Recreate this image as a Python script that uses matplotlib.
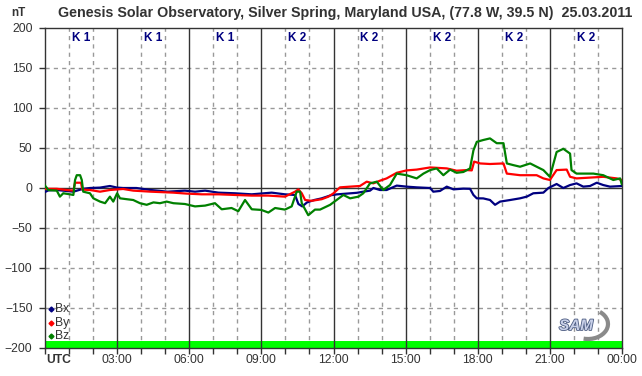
import matplotlib
matplotlib.use("Agg")
import matplotlib.pyplot as plt
from matplotlib.patches import Arc
import matplotlib.patheffects as pe

# time in hours UTC, values in nT
bx_t = [0, 0.14, 0.49, 1.18, 1.59, 1.87, 2.29, 2.7, 3.0, 3.25, 3.8, 4.4, 5.1, 5.82,
        6.24, 6.66, 7.21, 7.9, 8.6, 9.43, 9.98, 10.4, 10.54, 10.7, 10.9, 11.2, 11.5,
        11.9, 12.13, 12.55, 12.97, 13.24, 13.52, 13.66, 13.93, 14.21, 14.63, 15.04,
        15.46, 16.02, 16.15, 16.43, 16.71, 16.99, 17.4, 17.68, 17.82, 17.96, 18.23,
        18.51, 18.72, 18.93, 19.35, 19.76, 20.04, 20.31, 20.73, 20.94, 21.28, 21.56,
        21.84, 22.11, 22.39, 22.67, 22.95, 23.22, 23.5, 23.99]
bx = [-5, -3, -2.5, -4.6, -1, 0, 0.5, 2.5, 0.5, 0, 0, -2.5, -4.6, -3.3,
      -4.6, -3.3, -5.8, -6.6, -7.9, -5.8, -7.9, -8.7, -20, -23, -18, -15, -13,
      -9, -8, -7, -6, -4.6, -3.3, 0, -2.5, -2.5, 3, 1.7,
      0.8, 0, -4.6, -3.7, 1.7, -1.7, -0.8, -1, -8.7, -12.9, -13,
      -15, -21, -17, -15, -12.9, -10.8, -6.6, -5.8, 0, 5, 0,
      3.7, 5.8, 1.7, 2.5, 6.6, 3.7, 1.7, 2.5]

by_t = [0, 0.49, 0.9, 1.18, 1.25, 1.5, 1.55, 1.87, 2.29, 2.7, 3.25, 3.67, 4.4, 5.34,
        5.89, 6.52, 7.21, 7.9, 8.6, 9.29, 9.98, 10.4, 10.54, 10.68, 10.82, 11.09,
        11.51, 11.79, 12.0, 12.27, 12.69, 13.1, 13.38, 13.66, 13.93, 14.21, 14.63,
        15.04, 15.46, 16.02, 16.71, 17.12, 17.54, 17.75, 17.85, 18.1, 18.51, 19.07,
        19.21, 19.76, 20.45, 20.73, 21.0, 21.28, 21.7, 21.84, 22.11, 22.67, 23.22,
        23.78, 23.99]
by = [-1, -1, -2.5, -3.3, 6.6, 6.6, -2, -2.5, -4.6, -2.5, -1.2, -3.3, -4.6, -5.8,
      -7, -7.9, -7.9, -8.7, -9.5, -9.5, -10.8, -4.6, -1.7, -6.6, -15, -16,
      -14, -10.8, -6.6, 0.8, 1.7, 2.5, 7.9, 5.8, 9.1, 12, 19,
      22, 23, 25.7, 24.5, 21.6, 22.4, 22, 33, 30.7, 30, 30.7,
      18, 16, 16, 12, 10, 22.4, 23, 14, 12, 13, 14,
      12, 10]

bz_t = [0, 0.14, 0.49, 0.62, 0.76, 1.04, 1.18, 1.25, 1.32, 1.46, 1.53, 1.59, 1.87,
        2.01, 2.29, 2.5, 2.7, 2.84, 3.0, 3.12, 3.4, 3.67, 3.95, 4.23, 4.51, 4.78,
        5.06, 5.34, 5.82, 6.24, 6.66, 7.07, 7.35, 7.76, 8.04, 8.32, 8.6, 9.0, 9.29,
        9.57, 9.98, 10.26, 10.47, 10.61, 10.68, 10.95, 11.23, 11.44, 11.86, 12.13,
        12.41, 12.69, 13.04, 13.24, 13.52, 13.8, 14.07, 14.35, 14.63, 15.04, 15.46,
        15.74, 16.02, 16.29, 16.57, 16.85, 17.12, 17.4, 17.68, 17.82, 17.96, 18.23,
        18.51, 18.79, 19.07, 19.21, 19.48, 19.76, 20.18, 20.45, 20.73, 21.0, 21.28,
        21.56, 21.84, 21.9, 22.11, 22.39, 22.81, 23.22, 23.64, 23.92, 23.99]
bz = [3, -2.5, -3.3, -10.8, -6.6, -7.9, -8.7, 10, 16, 16, 10, -4.6, -6.6,
      -12.9, -17, -19, -10.8, -17, -6.6, -12.9, -14, -15, -19, -21, -18, -19,
      -17, -19, -20, -23, -22, -19, -26.6, -25, -29, -15, -26.6, -27.4, -30.7,
      -25, -27, -23, -4.6, -4.6, -19, -34, -27, -27, -21, -15,
      -8.7, -12.9, -10.8, -6.6, 5.8, 7.9, -2.5, 3.7, 18, 16, 12,
      18, 22.4, 24.5, 16, 23, 19, 20, 24.5, 47, 57.7, 60,
      62, 56, 56, 30.7, 28.6, 26.6, 30.7, 26.6, 22.4, 14, 45,
      49, 43, 22.4, 18, 18, 18, 16, 10, 12, 5]

k_index = [1, 1, 1, 2, 2, 2, 2, 2]
hour_labels = ["UTC", "03:00", "06:00", "09:00", "12:00", "15:00", "18:00", "21:00", "00:00"]
title = "Genesis Solar Observatory, Silver Spring, Maryland USA, (77.8 W, 39.5 N)  25.03.2011"

plt.rcParams['font.family'] = ['Liberation Sans', 'DejaVu Sans']
txt_col = '#333333'

fig = plt.figure(figsize=(6.42, 3.76), dpi=100)
ax = fig.add_axes([45 / 642, 28 / 376, 577 / 642, 320 / 376])
ax.set_xlim(0, 24)
ax.set_ylim(-200, 200)

# grid
for h in range(1, 24):
    if h % 3 == 0:
        ax.axvline(h, color='#333333', lw=1, zorder=3)
    else:
        ax.axvline(h, color='#999999', lw=1, ls=(0, (3, 3)), zorder=1)
for v in [-150, -100, -50, 50, 100, 150]:
    ax.axhline(v, color='#999999', lw=1, ls=(0, (3, 3)), zorder=1)
ax.axhline(0, color='#333333', lw=1, zorder=1)

ax.axhspan(-200, -191, color='#00ff00', lw=0, zorder=2)

ax.plot(bx_t, bx, color='#000080', lw=1.6, zorder=4)
ax.plot(by_t, by, color='#ff0000', lw=1.6, zorder=5)
ax.plot(bz_t, bz, color='#008000', lw=1.6, zorder=6)

# K index labels
for i, k in enumerate(k_index):
    ax.text(1.5 + 3 * i, 188, "K %d" % k, color='#000080', fontsize=8.5,
            fontweight='bold', ha='center', va='center', zorder=7,
            bbox=dict(facecolor='white', edgecolor='none', pad=0.5))

# axes styling
for s in ax.spines.values():
    s.set_color('#333333')
    s.set_linewidth(1)
ax.set_xticks(range(0, 25))
ax.set_xticklabels([])
ax.set_yticks(range(-200, 201, 50))
ax.tick_params(axis='both', direction='out', length=4, width=1, color='#333333',
               labelsize=8.7, labelcolor=txt_col)
ax.tick_params(axis='y', pad=5)

for i, lab in enumerate(hour_labels):
    x = 3 * i
    if i == 0:
        ax.text(x + 0.05, -215, lab, fontsize=8.7, fontweight='bold', color=txt_col,
                ha='left', va='center', clip_on=False)
    else:
        ax.text(x, -215, lab, fontsize=8.7, color=txt_col, ha='center', va='center',
                clip_on=False)

fig.text(18 / 642, 1 - 13 / 376, "nT", fontsize=8.5, fontweight='bold', color=txt_col,
         ha='center', va='center')
fig.text(345 / 642, 1 - 13 / 376, title, fontsize=10.3, fontweight='bold', color=txt_col,
         ha='center', va='center',
         family=['Liberation Sans Narrow', 'Liberation Sans', 'DejaVu Sans'])

# legend
leg_items = [("Bx", '#000080', 0.122), ("By", '#ff0000', 0.078), ("Bz", '#008000', 0.0375)]
for name, col, yy in leg_items:
    ax.plot([0.0104], [yy], marker='D', ms=2.5, color=col, transform=ax.transAxes,
            clip_on=False, zorder=8)
    ax.text(0.018, yy, name, fontsize=8.7, color=txt_col, transform=ax.transAxes,
            ha='left', va='center', zorder=8)

# SAM logo
fig.patches.append(Arc((588 / 642, 52 / 376), 40 / 642, 30 / 376, theta1=-100, theta2=60,
                       lw=3, color='#8a8a8a', transform=fig.transFigure))
fig.text(576 / 642, 50 / 376, "SAM", fontsize=11, style='italic', fontweight='bold',
         color='#c8d0e8', ha='center', va='center',
         path_effects=[pe.withStroke(linewidth=1.2, foreground='#4a5a80')])

fig.savefig("out.png", dpi=100, facecolor='white')
